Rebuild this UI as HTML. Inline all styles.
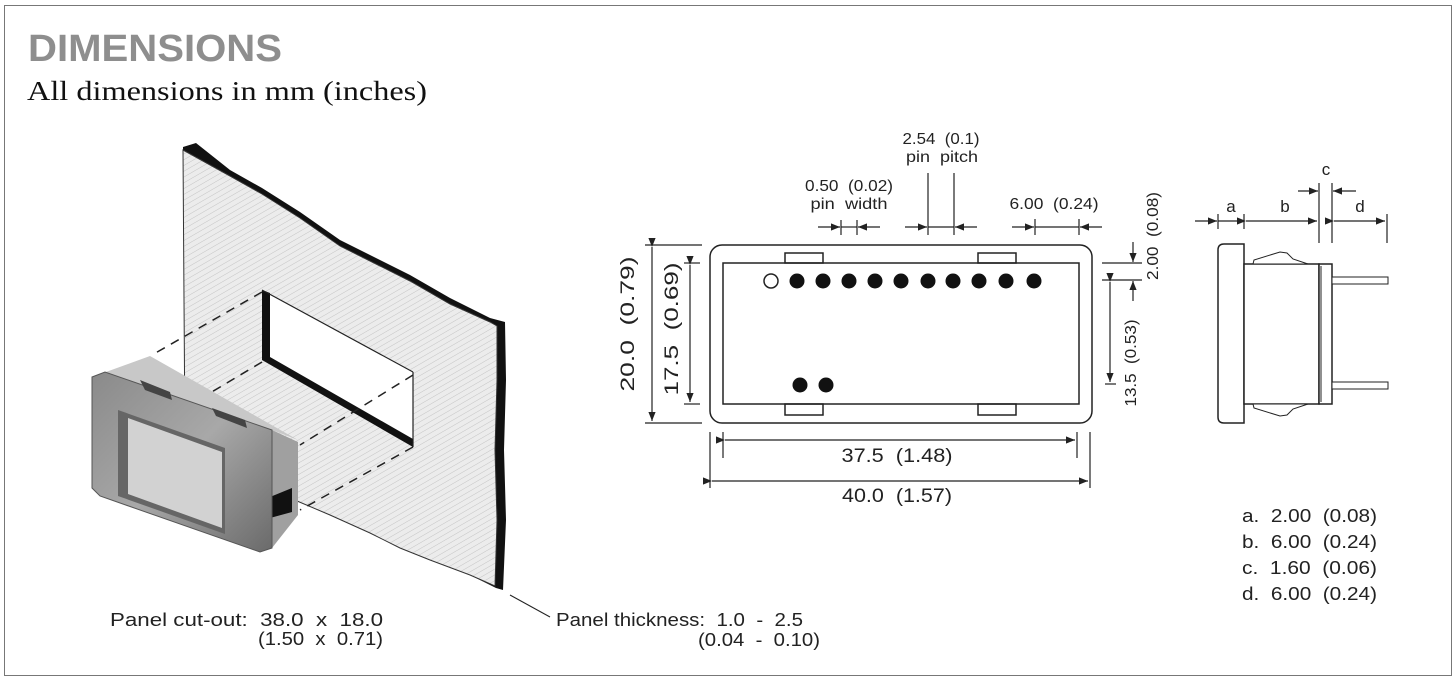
<!DOCTYPE html>
<html><head><meta charset="utf-8"><style>
html,body{margin:0;padding:0;background:#fff;}
svg{display:block;}
text{font-family:"Liberation Sans",sans-serif;fill:#222;white-space:pre;}
</style></head><body>
<svg width="1456" height="681" viewBox="0 0 1456 681" xmlns="http://www.w3.org/2000/svg" xml:space="preserve">
<defs>
<pattern id="hatch" width="5" height="5" patternUnits="userSpaceOnUse" patternTransform="rotate(60)">
<rect width="5" height="5" fill="#ececec"/>
<line x1="0" y1="0" x2="0" y2="5" stroke="#c4c4c4" stroke-width="1"/>
</pattern>
<linearGradient id="bez" x1="0" y1="0" x2="1" y2="1">
<stop offset="0" stop-color="#8a8a8a"/><stop offset="0.5" stop-color="#a8a8a8"/><stop offset="1" stop-color="#6a6a6a"/>
</linearGradient>
<marker id="ar" viewBox="0 0 10 10" refX="10" refY="5" markerWidth="9" markerHeight="9" markerUnits="userSpaceOnUse" orient="auto">
<path d="M0,1 L10,5 L0,9 Z" fill="#222"/>
</marker>
</defs>
<rect x="4.5" y="5.5" width="1447" height="670" fill="#fff" stroke="#777" stroke-width="1"/>

<text x="28" y="61" font-size="38" font-weight="bold" style="fill:#8e8e8e" textLength="254" lengthAdjust="spacingAndGlyphs">DIMENSIONS</text>
<text x="27" y="100" font-size="27" style="font-family:'Liberation Serif',serif;fill:#111" textLength="400" lengthAdjust="spacingAndGlyphs">All dimensions in mm (inches)</text>

<!-- Panel -->
<path d="M183,147 L196,143 L230,170 L262,188 L300,212 L340,240 L380,260 L410,275 L450,298 L490,318 L505,322 L506,380 L504,450 L506,520 L503,590 L496,588 L470,575 L430,560 L400,548 L370,533 L330,515 L290,498 L260,482 L230,470 L200,455 L185,445 L184,300 Z" fill="#111"/>
<path d="M183,150 L230,176 L262,194 L300,218 L340,246 L380,266 L410,281 L450,304 L490,322 L497,326 L497,380 L495,450 L497,520 L495,586 L470,575 L430,560 L400,548 L370,533 L330,515 L290,498 L260,482 L230,470 L200,455 L185,445 L184,300 Z" fill="url(#hatch)" stroke="#333" stroke-width="1"/>
<path d="M262,290 L413,372 L413,447 L262,360 Z" fill="#fff"/>
<path d="M262,290 L270,293 L270,357 L413,439 L413,447 L262,360 Z" fill="#111"/>
<line x1="262" y1="290" x2="413" y2="372" stroke="#222" stroke-width="1.2"/>
<line x1="413" y1="372" x2="413" y2="447" stroke="#222" stroke-width="1.2"/>
<g stroke="#222" stroke-width="1.5" stroke-dasharray="9,7" fill="none">
<line x1="262" y1="292" x2="152" y2="355"/>
<line x1="262" y1="362" x2="205" y2="396"/>
<line x1="413" y1="447" x2="300" y2="510"/>
<line x1="413" y1="375" x2="300" y2="445"/>
</g>
<!-- Module -->
<path d="M92,377 L150,356 L298,440 L272,430 Z" fill="#c8c8c8"/>
<path d="M272,430 L298,442 L298,515 L272,548 Z" fill="#a0a0a0"/>
<path d="M270,497 L292,488 L292,512 L270,518 Z" fill="#111"/>
<path d="M92,377 L105,372 L272,430 L272,548 L260,552 L100,496 L92,488 Z" fill="url(#bez)" stroke="#555" stroke-width="1"/>
<path d="M118,410 L225,448 L225,534 L118,496 Z" fill="#666"/>
<path d="M128,418 L222,452 L222,528 L128,494 Z" fill="#d2d2d2"/>
<path d="M140,380 L170,392 L172,400 L145,390 Z" fill="#444"/>
<path d="M212,408 L245,420 L247,428 L216,416 Z" fill="#444"/>

<line x1="510" y1="595" x2="550" y2="617" stroke="#222" stroke-width="1"/>
<g font-size="18">
<text x="110" y="626" textLength="273" lengthAdjust="spacingAndGlyphs">Panel cut-out:  38.0  x  18.0</text>
<text x="258" y="645" textLength="125" lengthAdjust="spacingAndGlyphs">(1.50  x  0.71)</text>
<text x="556" y="626" textLength="247" lengthAdjust="spacingAndGlyphs">Panel thickness:  1.0  -  2.5</text>
<text x="698" y="646" textLength="122" lengthAdjust="spacingAndGlyphs">(0.04  -  0.10)</text>
</g>

<!-- Front view -->
<g fill="none" stroke="#222" stroke-width="1.5">
<rect x="710" y="245" width="382" height="178" rx="12"/>
<rect x="723" y="263" width="356" height="141"/>
<rect x="785" y="253" width="38" height="10"/>
<rect x="978" y="253" width="38" height="10"/>
<rect x="785" y="404" width="38" height="11"/>
<rect x="978" y="404" width="38" height="11"/>
</g>
<circle cx="771" cy="281" r="7" fill="#fff" stroke="#222" stroke-width="1.5"/>
<g fill="#111">
<circle cx="797" cy="281" r="7.5"/><circle cx="823" cy="281" r="7.5"/><circle cx="849" cy="281" r="7.5"/>
<circle cx="875" cy="281" r="7.5"/><circle cx="901" cy="281" r="7.5"/><circle cx="928" cy="281" r="7.5"/>
<circle cx="953" cy="281" r="7.5"/><circle cx="979" cy="281" r="7.5"/><circle cx="1006" cy="281" r="7.5"/>
<circle cx="1034" cy="281" r="7.5"/>
<circle cx="800" cy="385" r="7.5"/><circle cx="826" cy="385" r="7.5"/>
</g>

<g stroke="#222" stroke-width="1.2" fill="none">
<line x1="723" y1="432" x2="723" y2="458"/><line x1="1077" y1="432" x2="1077" y2="458"/>
<line x1="725" y1="440" x2="1075" y2="440" marker-start="url(#ar)" marker-end="url(#ar)"/>
<line x1="710" y1="432" x2="710" y2="488"/><line x1="1090" y1="432" x2="1090" y2="488"/>
<line x1="712" y1="481" x2="1088" y2="481" marker-start="url(#ar)" marker-end="url(#ar)"/>
<line x1="645" y1="245" x2="702" y2="245"/><line x1="645" y1="423" x2="702" y2="423"/>
<line x1="652" y1="247" x2="652" y2="421" marker-start="url(#ar)" marker-end="url(#ar)"/>
<line x1="684" y1="263" x2="700" y2="263"/><line x1="684" y1="404" x2="700" y2="404"/>
<line x1="690" y1="265" x2="690" y2="402" marker-start="url(#ar)" marker-end="url(#ar)"/>
<line x1="1102" y1="263" x2="1142" y2="263"/><line x1="1102" y1="280" x2="1142" y2="280"/>
<line x1="1133" y1="242" x2="1133" y2="262" marker-end="url(#ar)"/>
<line x1="1133" y1="301" x2="1133" y2="281" marker-end="url(#ar)"/>
<line x1="1105" y1="384" x2="1116" y2="384"/>
<line x1="1110" y1="282" x2="1110" y2="382" marker-start="url(#ar)" marker-end="url(#ar)"/>
<line x1="841" y1="220" x2="841" y2="235"/><line x1="857" y1="220" x2="857" y2="235"/>
<line x1="818" y1="227" x2="840" y2="227" marker-end="url(#ar)"/>
<line x1="880" y1="227" x2="858" y2="227" marker-end="url(#ar)"/>
<line x1="841" y1="227" x2="857" y2="227"/>
<line x1="928" y1="173" x2="928" y2="235"/><line x1="954" y1="173" x2="954" y2="235"/>
<line x1="905" y1="227" x2="927" y2="227" marker-end="url(#ar)"/>
<line x1="977" y1="227" x2="955" y2="227" marker-end="url(#ar)"/>
<line x1="928" y1="227" x2="954" y2="227"/>
<line x1="1035" y1="219" x2="1035" y2="235"/><line x1="1079" y1="219" x2="1079" y2="235"/>
<line x1="1012" y1="227" x2="1034" y2="227" marker-end="url(#ar)"/>
<line x1="1102" y1="227" x2="1080" y2="227" marker-end="url(#ar)"/>
<line x1="1035" y1="227" x2="1079" y2="227"/>
</g>

<g font-size="19" text-anchor="middle">
<text x="897" y="462" textLength="111" lengthAdjust="spacingAndGlyphs">37.5  (1.48)</text>
<text x="897" y="502" textLength="110" lengthAdjust="spacingAndGlyphs">40.0  (1.57)</text>
<text x="849" y="191" font-size="16" textLength="88" lengthAdjust="spacingAndGlyphs">0.50  (0.02)</text>
<text x="849" y="209" font-size="16" textLength="77" lengthAdjust="spacingAndGlyphs">pin  width</text>
<text x="941" y="144" font-size="16" textLength="77" lengthAdjust="spacingAndGlyphs">2.54  (0.1)</text>
<text x="942" y="162" font-size="16" textLength="72" lengthAdjust="spacingAndGlyphs">pin  pitch</text>
<text x="1054" y="209" font-size="16" textLength="89" lengthAdjust="spacingAndGlyphs">6.00  (0.24)</text>
<text transform="translate(634,324) rotate(-90)" textLength="135" lengthAdjust="spacingAndGlyphs">20.0  (0.79)</text>
<text transform="translate(678,329) rotate(-90)" textLength="133" lengthAdjust="spacingAndGlyphs">17.5  (0.69)</text>
<text transform="translate(1158,236) rotate(-90)" font-size="16" textLength="88" lengthAdjust="spacingAndGlyphs">2.00  (0.08)</text>
<text transform="translate(1136,363) rotate(-90)" font-size="16" textLength="87" lengthAdjust="spacingAndGlyphs">13.5  (0.53)</text>
</g>

<!-- Side view -->
<g stroke="#222" stroke-width="1.5" fill="#fff">
<path d="M1224,244 L1244,244 L1244,423 L1224,423 Q1218,423 1218,417 L1218,250 Q1218,244 1224,244 Z"/>
<rect x="1244" y="264" width="75" height="140"/>
<rect x="1319" y="264" width="13" height="140"/>
<rect x="1332" y="277" width="56" height="7" stroke-width="1"/>
<rect x="1332" y="382" width="56" height="7" stroke-width="1"/>
<path d="M1253,264 L1254,260 L1280,252 L1287,253 L1293,259 L1308,264 Z" stroke-width="1"/>
<path d="M1253,404 L1254,408 L1280,416 L1287,415 L1293,409 L1308,404 Z" stroke-width="1"/>
</g>
<line x1="1321" y1="266" x2="1321" y2="402" stroke="#222" stroke-width="1"/>
<g stroke="#222" stroke-width="1.2" fill="none">
<line x1="1218" y1="214" x2="1218" y2="229"/><line x1="1244" y1="214" x2="1244" y2="229"/>
<line x1="1319" y1="183" x2="1319" y2="243"/><line x1="1332" y1="183" x2="1332" y2="243"/>
<line x1="1387" y1="214" x2="1387" y2="243"/>
<line x1="1195" y1="221" x2="1217" y2="221" marker-end="url(#ar)"/>
<line x1="1218" y1="221" x2="1244" y2="221"/>
<line x1="1246" y1="221" x2="1317" y2="221" marker-start="url(#ar)" marker-end="url(#ar)"/>
<line x1="1334" y1="221" x2="1385" y2="221" marker-start="url(#ar)" marker-end="url(#ar)"/>
<line x1="1298" y1="191" x2="1318" y2="191" marker-end="url(#ar)"/>
<line x1="1356" y1="191" x2="1333" y2="191" marker-end="url(#ar)"/>
</g>
<g font-size="17" text-anchor="middle">
<text x="1231" y="212">a</text>
<text x="1285" y="212">b</text>
<text x="1360" y="212">d</text>
<text x="1326" y="175">c</text>
</g>
<g font-size="18">
<text x="1242" y="522" textLength="135" lengthAdjust="spacingAndGlyphs">a.  2.00  (0.08)</text>
<text x="1242" y="548" textLength="135" lengthAdjust="spacingAndGlyphs">b.  6.00  (0.24)</text>
<text x="1242" y="574" textLength="135" lengthAdjust="spacingAndGlyphs">c.  1.60  (0.06)</text>
<text x="1242" y="600" textLength="135" lengthAdjust="spacingAndGlyphs">d.  6.00  (0.24)</text>
</g>
</svg>
</body></html>
